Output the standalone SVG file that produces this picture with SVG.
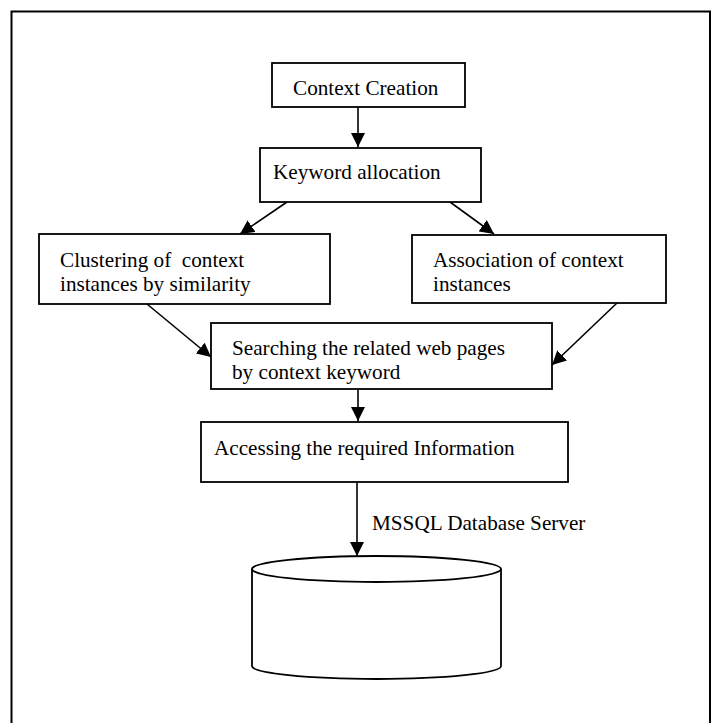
<svg xmlns="http://www.w3.org/2000/svg" width="716" height="723" viewBox="0 0 716 723">
<style>
.box{fill:#fff;stroke:#000;stroke-width:1.8}
.t{font-family:"Liberation Serif","Times New Roman",serif;font-size:21.2px;fill:#000}
.c{stroke:#000;stroke-width:1.6;fill:none}
</style>
<defs>
<marker id="ah" viewBox="0 0 14 14" refX="14" refY="7" markerWidth="14" markerHeight="14" markerUnits="userSpaceOnUse" orient="auto">
<path d="M0,0 L14,7 L0,14 Z" fill="#000"/>
</marker>
</defs>
<rect x="11.5" y="11.5" width="698.5" height="730" fill="none" stroke="#000" stroke-width="2"/>
<g id="connectors">
<line class="c" x1="358" y1="107" x2="358" y2="147" marker-end="url(#ah)"/>
<line class="c" x1="287" y1="202" x2="240" y2="234" marker-end="url(#ah)"/>
<line class="c" x1="450" y1="202" x2="494" y2="234" marker-end="url(#ah)"/>
<line class="c" x1="147" y1="304" x2="211" y2="357" marker-end="url(#ah)"/>
<line class="c" x1="617" y1="303" x2="552" y2="365" marker-end="url(#ah)"/>
<line class="c" x1="358" y1="389" x2="358" y2="421" marker-end="url(#ah)"/>
<line class="c" x1="357" y1="482" x2="357" y2="556" marker-end="url(#ah)"/>
<text class="t" x="372" y="530">MSSQL Database Server</text>
</g>
<g id="context-creation">
<rect class="box" x="272" y="63" width="193" height="44"/>
<text class="t" x="293" y="95">Context Creation</text>
</g>
<g id="keyword-allocation">
<rect class="box" x="260" y="148" width="221" height="54"/>
<text class="t" x="273" y="179">Keyword allocation</text>
</g>
<g id="clustering">
<rect class="box" x="39" y="234" width="291" height="70"/>
<text class="t" x="60" y="267" xml:space="preserve">Clustering of  context</text>
<text class="t" x="60" y="291">instances by similarity</text>
</g>
<g id="association">
<rect class="box" x="412" y="235" width="254" height="68"/>
<text class="t" x="433" y="267">Association of context</text>
<text class="t" x="433" y="291">instances</text>
</g>
<g id="searching">
<rect class="box" x="211" y="323" width="341" height="66"/>
<text class="t" x="232" y="355">Searching the related web pages</text>
<text class="t" x="232" y="379">by context keyword</text>
</g>
<g id="accessing">
<rect class="box" x="201" y="422" width="367" height="60"/>
<text class="t" x="214" y="455">Accessing the required Information</text>
</g>
<g id="database">
<path class="box" d="M252,569 V666 A124.5,13 0 0 0 501,666 V569"/>
<ellipse class="box" cx="376.5" cy="569" rx="124.5" ry="13"/>
</g>
</svg>
